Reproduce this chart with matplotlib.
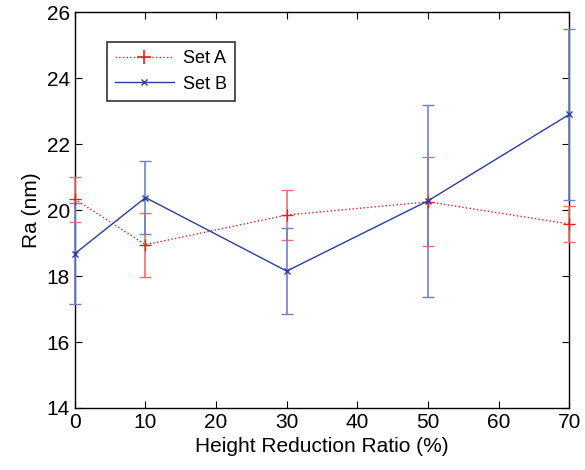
import numpy as np
import matplotlib.pyplot as plt
from matplotlib.lines import Line2D

plt.rcParams['font.family'] = ['Liberation Sans', 'DejaVu Sans']

# Height reduction ratio (%)
ratio = [0, 10, 30, 50, 70]

# Ra (nm) mean and error
set_a = [20.33, 18.95, 19.85, 20.25, 19.58]
set_a_err = [0.68, 0.97, 0.75, 1.35, 0.54]
set_b = [18.68, 20.38, 18.15, 20.28, 22.9]
set_b_err = [1.52, 1.1, 1.3, 2.92, 2.6]

fig = plt.figure(figsize=(5.85, 4.7), dpi=100)
ax = fig.add_axes([0.128, 0.132, 0.845, 0.842])

red = '#e8201c'
blue = '#2b3da0'

ax.errorbar(ratio, set_a, yerr=set_a_err, color=red, ls=':', lw=1,
            marker='+', ms=8, mew=1, capsize=4, elinewidth=1.2,
            ecolor='#f07070', clip_on=False, zorder=3)
ax.errorbar(ratio, set_b, yerr=set_b_err, color=blue, ls='-', lw=1,
            marker='x', ms=4, mew=1, capsize=4, elinewidth=1.2,
            ecolor='#7080c8', clip_on=False, zorder=3)

ax.set_xlim(0, 70)
ax.set_ylim(14, 26)
ax.set_xticks([0, 10, 20, 30, 40, 50, 60, 70])
ax.set_yticks([14, 16, 18, 20, 22, 24, 26])
ax.tick_params(direction='in', top=True, right=True, labelsize=15, length=5)
for s in ax.spines.values():
    s.set_linewidth(1)
ax.set_xlabel('Height Reduction Ratio (%)', fontsize=15)
ax.set_ylabel('Ra (nm)', fontsize=15)

handles = [Line2D([], [], color=red, ls=':', lw=1, marker='+', ms=10, mew=1.2),
           Line2D([], [], color=blue, ls='-', lw=1, marker='x', ms=4, mew=1)]
leg = ax.legend(handles, ['Set A', 'Set B'], loc='upper left',
                bbox_to_anchor=(0.064, 0.924), fontsize=13,
                frameon=True, fancybox=False, edgecolor='black',
                handlelength=3.3, borderpad=0.45, labelspacing=0.45,
                handletextpad=0.5, borderaxespad=0)
leg.get_frame().set_linewidth(1.2)

fig.savefig('out.png', dpi=100)
